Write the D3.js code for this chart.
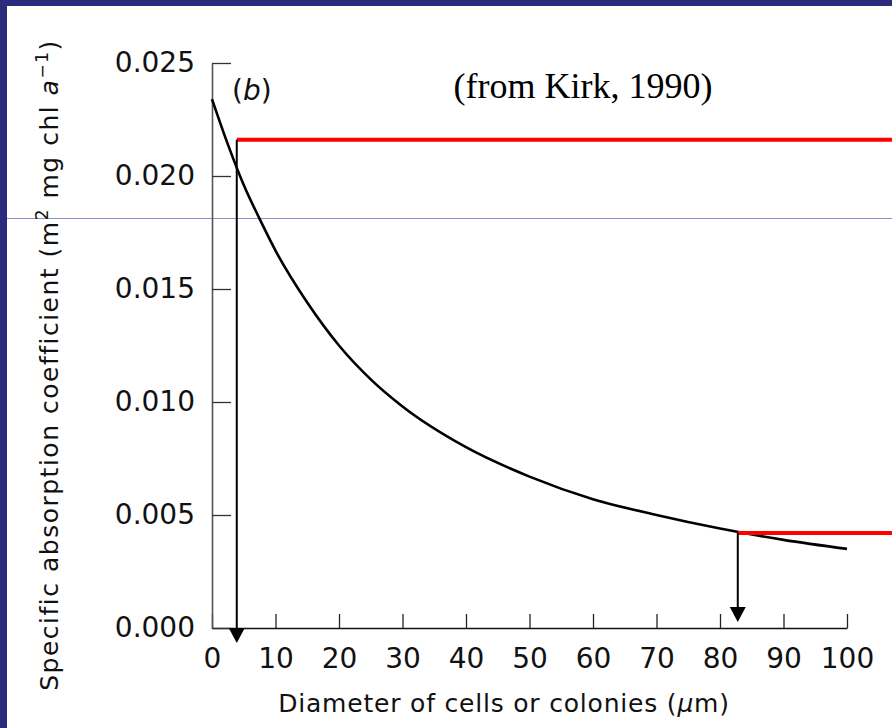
<!DOCTYPE html>
<html lang="en">
<head>
	<meta charset="utf-8" />
	<title>Specific absorption coefficient vs diameter</title>
	<script src="https://cdn.jsdelivr.net/npm/d3@7"></script>
</head>

<style>
body { margin: 0; background: white; }
</style>

<body>
<div id="kirkChart"></div>
</body>

<script>

// curve (diameter in um, a* in m2 mg chl a-1)
var diameter = [0, 2.5, 5, 7.5, 10, 15, 20, 25, 30, 40, 50, 60, 70, 80, 90, 100];
var absorption = [0.0234, 0.0214, 0.0196, 0.0181, 0.0167, 0.0144, 0.0125, 0.0110, 0.0098, 0.0080, 0.0067, 0.0057, 0.0050, 0.0044, 0.0039, 0.0035];

// the two red read-off lines and their arrows
var markDiameter = [3.9, 82.8];
var markAbsorption = [0.0216, 0.0042];

var xTicks = [0, 10, 20, 30, 40, 50, 60, 70, 80, 90, 100];
var yTicks = [0, 0.005, 0.010, 0.015, 0.020, 0.025];

var W = 892, H = 728;

var svg = d3.select("#kirkChart")
  .append("svg")
    .attr("width", W)
    .attr("height", H);

// white slide with the dark blue frame
svg.append("rect").attr("width", W).attr("height", H).attr("fill", "white");
svg.append("rect").attr("width", W).attr("height", 6).attr("fill", "#2b2b7e");
svg.append("rect").attr("width", 7).attr("height", H).attr("fill", "#2b2b7e");
svg.append("line")
  .attr("x1", 7).attr("x2", W).attr("y1", 218.5).attr("y2", 218.5)
  .attr("stroke", "#9090c8").attr("stroke-width", 1);

var x = d3.scaleLinear().domain([0, 100]).range([212, 847]);
var y = d3.scaleLinear().domain([0, 0.025]).range([628, 63]);

// X axis, ticks pointing inward
var gx = svg.append("g")
  .attr("transform", "translate(0," + y(0) + ")")
  .call(d3.axisBottom(x).tickValues(xTicks).tickSizeInner(-14).tickSizeOuter(0).tickPadding(20));
gx.select(".domain").attr("stroke", "#111").attr("stroke-width", 1.6);
gx.selectAll(".tick line").attr("stroke", "#222").attr("stroke-width", 1.3);
gx.selectAll("text")
  .style("font-family", "DejaVu Sans")
  .style("font-size", "28px")
  .attr("fill", "#111");

// Y axis
var gy = svg.append("g")
  .attr("transform", "translate(" + x(0) + ",0)")
  .call(d3.axisLeft(y).tickValues(yTicks).tickFormat(d3.format(".3f")).tickSizeInner(-19).tickSizeOuter(0).tickPadding(17));
gy.select(".domain").attr("stroke", "#555").attr("stroke-width", 1.6);
gy.selectAll(".tick line").attr("stroke", "#333").attr("stroke-width", 1.3);
gy.selectAll("text")
  .style("font-family", "DejaVu Sans")
  .style("font-size", "28px")
  .attr("fill", "#111");

// axis titles
svg.append("text")
  .attr("x", 504)
  .attr("y", 712)
  .attr("text-anchor", "middle")
  .style("font-family", "DejaVu Sans")
  .style("font-size", "25px")
  .style("letter-spacing", "0.8px")
  .attr("fill", "#111")
  .html("Diameter of cells or colonies (<tspan font-style='italic'>μ</tspan>m)");

svg.append("text")
  .attr("transform", "translate(58,365) rotate(-90)")
  .attr("text-anchor", "middle")
  .style("font-family", "DejaVu Sans")
  .style("font-size", "25px")
  .style("letter-spacing", "1.5px")
  .attr("fill", "#111")
  .html("Specific absorption coefficient (m<tspan dy='-10' font-size='17px'>2</tspan><tspan dy='10'> mg chl </tspan><tspan font-style='italic'>a</tspan><tspan dy='-10' font-size='17px'>−1</tspan><tspan dy='10'>)</tspan>");

// panel label and source
svg.append("text")
  .attr("x", 232).attr("y", 100)
  .style("font-family", "DejaVu Sans")
  .style("font-size", "28px")
  .attr("fill", "#111")
  .html("(<tspan font-style='italic'>b</tspan>)");

svg.append("text")
  .attr("x", 583).attr("y", 98)
  .attr("text-anchor", "middle")
  .style("font-family", "Liberation Serif")
  .style("font-size", "36px")
  .attr("fill", "#000")
  .text("(from Kirk, 1990)");

// the curve
var pts = diameter.map(function(d, i) { return [d, absorption[i]]; });
svg.append("path")
  .datum(pts)
  .attr("fill", "none")
  .attr("stroke", "#000")
  .attr("stroke-width", 2.6)
  .attr("d", d3.line()
    .x(function(d) { return x(d[0]); })
    .y(function(d) { return y(d[1]); })
    .curve(d3.curveMonotoneX));

// red lines going off to the right edge
svg.selectAll(".redline")
  .data(markDiameter)
  .enter()
  .append("line")
    .attr("x1", function(d) { return x(d); })
    .attr("x2", W)
    .attr("y1", function(d, i) { return y(markAbsorption[i]); })
    .attr("y2", function(d, i) { return y(markAbsorption[i]); })
    .attr("stroke", "#ff0000")
    .attr("stroke-width", 4);

// arrows down to the axis
var arrowTip = [y(0) + 15, y(0) - 6];
svg.selectAll(".shaft")
  .data(markDiameter)
  .enter()
  .append("line")
    .attr("x1", function(d) { return x(d); })
    .attr("x2", function(d) { return x(d); })
    .attr("y1", function(d, i) { return y(markAbsorption[i]); })
    .attr("y2", function(d, i) { return arrowTip[i] - 10; })
    .attr("stroke", "#000")
    .attr("stroke-width", 2);

svg.selectAll(".head")
  .data(markDiameter)
  .enter()
  .append("path")
    .attr("fill", "#000")
    .attr("d", function(d, i) {
      var cx = x(d), t = arrowTip[i];
      return "M" + (cx - 8) + "," + (t - 15) + "L" + (cx + 8) + "," + (t - 15) + "L" + cx + "," + t + "Z";
    });

</script>
</html>
